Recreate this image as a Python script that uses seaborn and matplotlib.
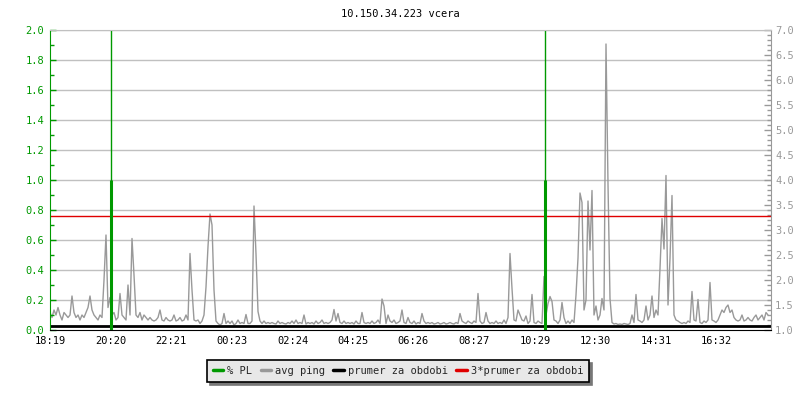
import numpy as np
import pandas as pd
import seaborn as sns
import matplotlib.pyplot as plt
from matplotlib.lines import Line2D
from matplotlib.ticker import MultipleLocator, FormatStrFormatter

title = "10.150.34.223 vcera"

# avg ping, one sample every 4 minutes from 18:19
ping = [
    1.35, 1.25, 1.4, 1.3, 1.45, 1.3, 1.2, 1.35, 1.3, 1.25,
    1.3, 1.68, 1.35, 1.25, 1.3, 1.2, 1.3, 1.25, 1.35, 1.45,
    1.68, 1.4, 1.3, 1.25, 1.2, 1.3, 1.25, 2.0, 2.9, 1.45,
    1.65, 1.3, 1.35, 1.2, 1.25, 1.73, 1.3, 1.25, 1.2, 1.9,
    1.3, 2.83, 2.1, 1.3, 1.25, 1.35, 1.2, 1.3, 1.25, 1.2,
    1.25, 1.2, 1.18, 1.2, 1.25, 1.4, 1.2, 1.18, 1.25, 1.2,
    1.18, 1.2, 1.3, 1.18, 1.2, 1.25, 1.18, 1.2, 1.3, 1.2,
    2.53, 1.8, 1.2, 1.18, 1.2, 1.13, 1.18, 1.3, 1.86, 2.67,
    3.32, 3.1, 1.8, 1.18, 1.13, 1.1, 1.13, 1.33, 1.13, 1.18,
    1.13, 1.18, 1.1, 1.13, 1.2, 1.13, 1.15, 1.13, 1.31, 1.13,
    1.13, 1.18, 3.48, 2.52, 1.37, 1.18, 1.13, 1.18, 1.13, 1.15,
    1.13, 1.15, 1.13, 1.12, 1.18, 1.13, 1.15, 1.13, 1.12, 1.15,
    1.13, 1.18, 1.13, 1.2, 1.13, 1.15, 1.13, 1.3, 1.12, 1.15,
    1.13, 1.15, 1.12, 1.18, 1.13, 1.15, 1.2, 1.13, 1.15, 1.13,
    1.15, 1.2, 1.41, 1.18, 1.33, 1.15, 1.13, 1.18, 1.13, 1.15,
    1.13, 1.15, 1.12, 1.18, 1.13, 1.13, 1.35, 1.15, 1.13, 1.15,
    1.13, 1.18, 1.13, 1.15, 1.2, 1.13, 1.62, 1.48, 1.13, 1.3,
    1.18, 1.15, 1.2, 1.13, 1.15, 1.18, 1.4, 1.15, 1.13, 1.25,
    1.15, 1.13, 1.18, 1.12, 1.15, 1.13, 1.33, 1.18, 1.13, 1.15,
    1.13, 1.15, 1.12, 1.13, 1.15, 1.12, 1.13, 1.15, 1.12, 1.13,
    1.15, 1.13, 1.12, 1.15, 1.13, 1.33, 1.18, 1.15, 1.13, 1.18,
    1.15, 1.13, 1.18, 1.15, 1.73, 1.18, 1.13, 1.15, 1.35, 1.18,
    1.13, 1.15, 1.13, 1.18, 1.13, 1.15, 1.13, 1.2, 1.13, 1.25,
    2.53, 1.83, 1.2, 1.18, 1.4, 1.3, 1.2, 1.18, 1.28, 1.13,
    1.18, 1.71, 1.15, 1.13, 1.18, 1.15, 1.13, 2.07, 1.3, 1.53,
    1.67, 1.57, 1.2, 1.18, 1.13, 1.2, 1.55, 1.25, 1.13, 1.18,
    1.13, 1.2, 1.15, 1.7, 2.44, 3.74, 3.55, 1.4, 1.6, 3.58,
    2.6, 3.79, 1.3, 1.48, 1.2, 1.3, 1.63, 1.4, 6.72, 3.92,
    1.63, 1.15, 1.12, 1.13, 1.11, 1.12, 1.11, 1.13, 1.12, 1.11,
    1.13, 1.3, 1.15, 1.71, 1.2, 1.18, 1.15, 1.2, 1.48, 1.2,
    1.3, 1.68, 1.25, 1.4, 1.3, 2.23, 3.23, 2.62, 4.09, 1.5,
    2.43, 3.69, 1.3, 1.2, 1.18, 1.15, 1.13, 1.15, 1.13, 1.18,
    1.15, 1.77, 1.2, 1.18, 1.61, 1.15, 1.13, 1.18, 1.15, 1.2,
    1.95, 1.2, 1.18, 1.15, 1.2, 1.3, 1.4, 1.35, 1.45, 1.5,
    1.35, 1.4, 1.25, 1.2, 1.18, 1.2, 1.3, 1.18, 1.2, 1.25,
    1.2, 1.18, 1.25, 1.3, 1.2, 1.25, 1.3, 1.2, 1.35, 1.3,
]
sample_step = 4  # minutes

# packet loss events (minutes from 18:19)
pl_time = [122, 990]
pl_value = [1.0, 1.0]
pl_peak = [2.0, 2.0]

prumer = 1.09

tick_labels = ["18:19", "20:20", "22:21", "00:23", "02:24", "04:25",
               "06:26", "08:27", "10:29", "12:30", "14:31", "16:32"]

GREEN = "#009900"
GREY = "#999999"
RED = "#e00000"

sns.set_style("white")
plt.rcParams["font.family"] = ["DejaVu Sans Mono"]
plt.rcParams["font.size"] = 7.5


def minutes(label):
    h, m = map(int, label.split(":"))
    h0, m0 = map(int, tick_labels[0].split(":"))
    return (h * 60 + m - h0 * 60 - m0) % 1440


df = pd.DataFrame({"t": np.arange(len(ping)) * sample_step, "ping": ping})

fig = plt.figure(figsize=(8, 4), dpi=100)
ax = fig.add_axes([50 / 800, 70 / 400, 721 / 800, 300 / 400])
ax2 = ax.twinx()
ax.set_zorder(2)
ax.patch.set_visible(False)
ax2.set_zorder(1)

ax.set_xlim(0, 1442)
ax.set_ylim(0, 2)
ax2.set_ylim(1, 7)

# grid following the left scale, drawn in the ping axes so it stays behind
for v in np.arange(0.2, 2.01, 0.2):
    ax2.axhline(1 + v * 3, color="#c0c0c0", lw=1, zorder=0)

sns.lineplot(data=df, x="t", y="ping", ax=ax2, color=GREY, lw=1, legend=False)
ax2.axhline(prumer, color="black", lw=2)
ax2.axhline(3 * prumer, color=RED, lw=1)

ax.vlines(pl_time, 0, pl_peak, color=GREEN, lw=1)
ax.vlines(pl_time, 0, pl_value, color=GREEN, lw=2.2)

# left axis
ax.yaxis.set_major_locator(MultipleLocator(0.2))
ax.yaxis.set_minor_locator(MultipleLocator(0.1))
ax.yaxis.set_major_formatter(FormatStrFormatter("%.1f"))
ax.tick_params(axis="y", which="major", direction="in", length=4, width=1,
               colors=GREEN, pad=4)
ax.tick_params(axis="y", which="minor", direction="in", length=3, width=1,
               colors=GREEN)
ax.set_xticks([minutes(l) for l in tick_labels])
ax.set_xticklabels(tick_labels)
ax.tick_params(axis="x", direction="in", length=3, width=1, color="black",
               labelcolor="black", pad=4)
ax.set_xlabel("")
ax.set_ylabel("")

# right axis
ax2.yaxis.set_major_locator(MultipleLocator(0.5))
ax2.yaxis.set_minor_locator(MultipleLocator(0.1))
ax2.yaxis.set_major_formatter(FormatStrFormatter("%.1f"))
ax2.tick_params(axis="y", which="major", direction="in", length=5, width=1,
                colors=GREY, pad=3)
ax2.tick_params(axis="y", which="minor", direction="in", length=3, width=1,
                colors=GREY)
ax2.set_ylabel("")
ax2.set_xlabel("")

ax.spines["left"].set_color(GREEN)
ax.spines["bottom"].set_color("black")
ax.spines["top"].set_color("#c0c0c0")
ax.spines["right"].set_visible(False)
ax2.spines["right"].set_color(GREY)
ax2.spines["left"].set_visible(False)
ax2.spines["top"].set_visible(False)
ax2.spines["bottom"].set_visible(False)

fig.text(0.5, 1 - 14 / 400, title, ha="center", va="center", color="black")

handles = [
    Line2D([], [], color=GREEN, lw=2.5),
    Line2D([], [], color=GREY, lw=2.5),
    Line2D([], [], color="black", lw=2.5),
    Line2D([], [], color=RED, lw=2.5),
]
labels = ["% PL", "avg ping", "prumer za obdobi", "3*prumer za obdobi"]
leg = fig.legend(handles, labels, loc="center", bbox_to_anchor=(398 / 800, 1 - 371 / 400),
                 ncol=4, frameon=True, fancybox=False,
                 shadow={"color": "#777777", "alpha": 1},
                 edgecolor="black", facecolor="#e8e8e8", framealpha=1,
                 handlelength=1.0, handletextpad=0.4, columnspacing=0.8,
                 borderpad=0.55)
leg.get_frame().set_linewidth(1.2)

fig.savefig("out.png", dpi=100)
